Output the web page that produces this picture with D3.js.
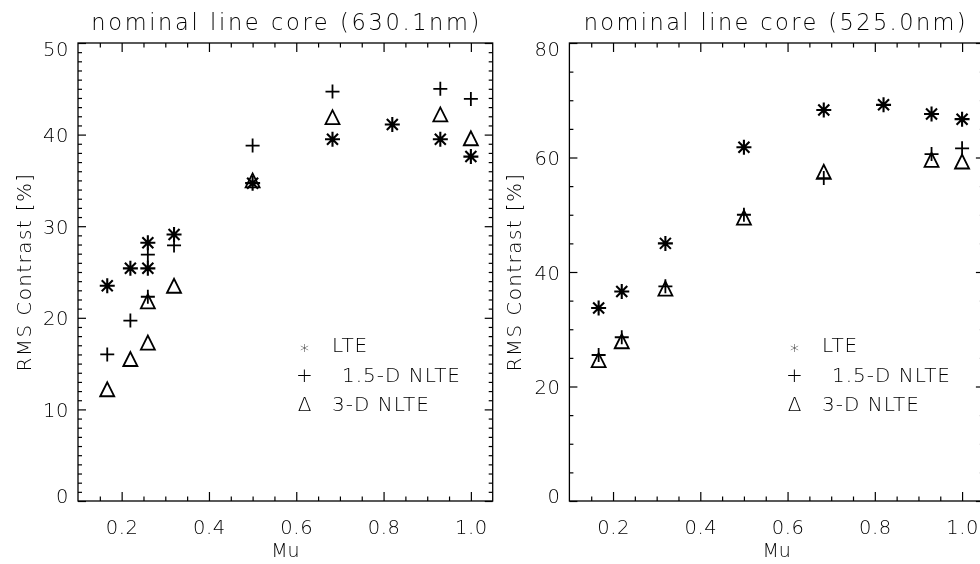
<!DOCTYPE html>
<html><head><meta charset="utf-8">
<script src="https://cdn.jsdelivr.net/npm/d3@7"></script>
<style>
body{margin:0;background:#fff;}
svg{display:block;background:#fff;will-change:transform;}
text{font-family:"DejaVu Sans",sans-serif;font-weight:200;fill:#000;}
</style></head><body>
<svg id="chart" width="980" height="564"></svg>
<script>
// ---------------- data ----------------
const titles = ["nominal line core (630.1nm)", "nominal line core (525.0nm)"];
const xLabel = "Mu";
const yLabel = "RMS Contrast [%]";
const legendLabels = ["LTE", "1.5-D NLTE", "3-D NLTE"];
const legendSymbols = ["*", "+", "\u0394"];
const xTicks = [0.2, 0.4, 0.6, 0.8, 1.0];
const yTicksLeft = [0, 10, 20, 30, 40, 50];
const yTicksRight = [0, 20, 40, 60, 80];

// 630.1 nm panel
const muLteA   = [0.167, 0.22, 0.26, 0.26, 0.32, 0.5, 0.683, 0.82, 0.93, 1.0];
const lteA     = [23.5, 25.4, 28.2, 25.4, 29.1, 34.7, 39.5, 41.1, 39.5, 37.6];
const muN15A   = [0.167, 0.22, 0.26, 0.26, 0.32, 0.5, 0.683, 0.93, 1.0];
const nlte15A  = [16.0, 19.7, 26.9, 22.3, 27.9, 38.8, 44.7, 45.0, 43.9];
const muN3A    = [0.167, 0.22, 0.26, 0.26, 0.32, 0.5, 0.683, 0.93, 1.0];
const nlte3A   = [12.2, 15.5, 17.3, 21.8, 23.5, 35.0, 41.9, 42.2, 39.6];

// 525.0 nm panel
const muLteB   = [0.167, 0.22, 0.32, 0.5, 0.683, 0.82, 0.93, 1.0];
const lteB     = [33.7, 36.6, 45.0, 61.8, 68.3, 69.2, 67.6, 66.7];
const muN15B   = [0.167, 0.22, 0.32, 0.5, 0.683, 0.93, 1.0];
const nlte15B  = [25.5, 28.6, 37.5, 50.0, 56.4, 60.6, 61.6];
const muN3B    = [0.167, 0.22, 0.32, 0.5, 0.683, 0.93, 1.0];
const nlte3B   = [24.6, 27.9, 37.1, 49.5, 57.5, 59.6, 59.3];

// ---------------- drawing ----------------
const svg = d3.select("#chart");
const symPaths = {
  star: "M-7.5,0H7.5M0,-7.5V7.5M-5.5,-5.5L5.5,5.5M-5.5,5.5L5.5,-5.5",
  plus: "M-7,0H7M0,-7V7",
  tri:  "M-7,7L0,-7L7,7Z"
};
const symWidth = { star: 2.1, plus: 1.8, tri: 1.8 };

const panels = [
  { title: titles[0], tLen: 388, x0: 78, x1: 492.7, yMax: 50, yTicks: yTicksLeft, yMinorStep: 1,
    yLabX: 31, legendX: 299,
    series: [ {mu: muLteA, v: lteA, s: "star"}, {mu: muN15A, v: nlte15A, s: "plus"}, {mu: muN3A, v: nlte3A, s: "tri"} ] },
  { title: titles[1], tLen: 382, x0: 569.4, x1: 983.9, yMax: 80, yTicks: yTicksRight, yMinorStep: 5,
    yLabX: 521, legendX: 789,
    series: [ {mu: muLteB, v: lteB, s: "star"}, {mu: muN15B, v: nlte15B, s: "plus"}, {mu: muN3B, v: nlte3B, s: "tri"} ] }
];

const yTop = 43, yBot = 501;

panels.forEach(p => {
  const x = d3.scaleLinear().domain([0.1, 1.05]).range([p.x0, p.x1]);
  const y = d3.scaleLinear().domain([0, p.yMax]).range([yBot, yTop]);
  const g = svg.append("g");

  const xMinor = d3.range(0.15, 1.05, 0.05).filter(v => xTicks.every(t => Math.abs(t - v) > 1e-6));
  const yMinor = d3.range(p.yMinorStep, p.yMax, p.yMinorStep).filter(v => p.yTicks.indexOf(v) < 0);

  const style = sel => {
    sel.select(".domain").remove();
    sel.selectAll("line").attr("stroke", "#000").attr("stroke-width", 1.2);
  };

  // bottom
  g.append("g").attr("transform", `translate(0,${yBot})`)
    .call(d3.axisBottom(x).tickValues(xTicks).tickSize(-9).tickFormat(d3.format(".1f")))
    .call(style)
    .call(s => s.selectAll("text").attr("y", 33).attr("dy", 0)
      .attr("font-size", 19.5).attr("letter-spacing", 0.6).attr("font-family", null));
  g.append("g").attr("transform", `translate(0,${yBot})`)
    .call(d3.axisBottom(x).tickValues(xMinor).tickSize(-4.5).tickFormat("")).call(style);
  // top
  g.append("g").attr("transform", `translate(0,${yTop})`)
    .call(d3.axisTop(x).tickValues(xTicks).tickSize(-9).tickFormat("")).call(style);
  g.append("g").attr("transform", `translate(0,${yTop})`)
    .call(d3.axisTop(x).tickValues(xMinor).tickSize(-4.5).tickFormat("")).call(style);
  // left
  g.append("g").attr("transform", `translate(${p.x0},0)`)
    .call(d3.axisLeft(y).tickValues(p.yTicks).tickSize(-8).tickPadding(9).tickFormat(d3.format("d")))
    .call(style)
    .call(s => s.selectAll("text").attr("font-size", 19.5).attr("letter-spacing", 0.6)
      .attr("font-family", null).attr("dy", "0.36em")
      .attr("y", d => d === 0 ? -6 : (d === p.yMax ? 5 : 0)));
  g.append("g").attr("transform", `translate(${p.x0},0)`)
    .call(d3.axisLeft(y).tickValues(yMinor).tickSize(-4).tickFormat("")).call(style);
  // right
  g.append("g").attr("transform", `translate(${p.x1},0)`)
    .call(d3.axisRight(y).tickValues(p.yTicks).tickSize(-8).tickFormat("")).call(style);
  g.append("g").attr("transform", `translate(${p.x1},0)`)
    .call(d3.axisRight(y).tickValues(yMinor).tickSize(-4).tickFormat("")).call(style);

  // frame
  g.append("rect").attr("x", p.x0).attr("y", yTop).attr("width", p.x1 - p.x0).attr("height", yBot - yTop)
    .attr("fill", "none").attr("stroke", "#000").attr("stroke-width", 1.3);

  // title
  g.append("text").attr("x", (p.x0 + p.x1) / 2 + (p === panels[1] ? -2 : 0)).attr("y", 30).attr("text-anchor", "middle")
    .attr("font-size", 22.5).attr("textLength", p.tLen).attr("lengthAdjust", "spacing").text(p.title);
  // x label
  g.append("text").attr("x", (p.x0 + p.x1) / 2).attr("y", 557).attr("text-anchor", "middle")
    .attr("font-size", 19).text(xLabel);
  // y label
  g.append("text").attr("transform", `translate(${p.yLabX},${(yTop + yBot) / 2}) rotate(-90)`)
    .attr("text-anchor", "middle").attr("font-size", 20).attr("letter-spacing", 1.4).text(yLabel);

  // data symbols
  p.series.forEach(sr => {
    g.append("g").selectAll("path").data(sr.mu.map((m, i) => [m, sr.v[i]])).join("path")
      .attr("transform", d => `translate(${x(d[0])},${y(d[1])})`)
      .attr("d", symPaths[sr.s]).attr("fill", "none").attr("stroke", "#000").attr("stroke-width", symWidth[sr.s]);
  });

  // legend
  const lx = p.legendX;
  const rows = [351.7, 381.7, 410.7];
  const textX = [lx + 33, lx + 43, lx + 33];
  legendLabels.forEach((lab, i) => {
    g.append("text").attr("x", lx + 5.5).attr("y", i === 0 ? rows[i] + 5 : rows[i]).attr("text-anchor", "middle")
      .attr("font-size", i === 0 ? 18 : 20).text(legendSymbols[i]);
    g.append("text").attr("x", textX[i]).attr("y", rows[i]).attr("font-size", 20)
      .attr("letter-spacing", 1.0).text(lab);
  });
});
</script>
</body></html>
